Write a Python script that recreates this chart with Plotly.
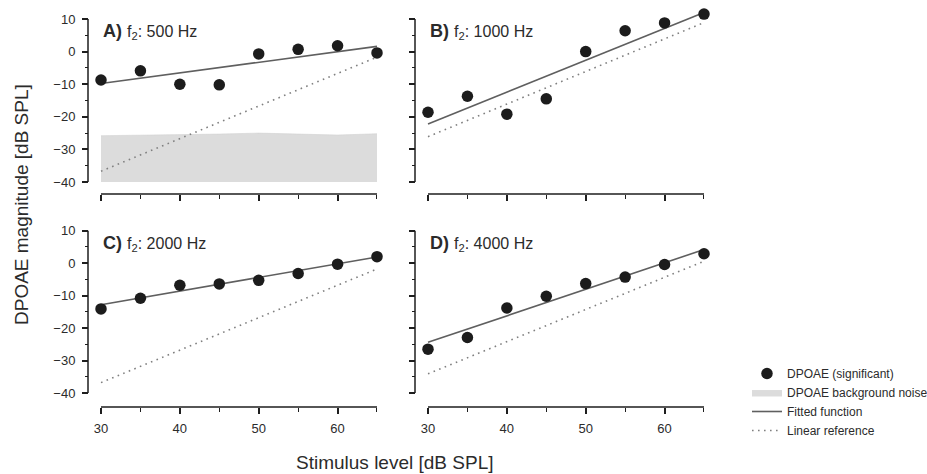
import plotly.graph_objects as go

# ---------------- data ----------------
levels = [30, 35, 40, 45, 50, 55, 60, 65]

dpoae_500 = [-8.7, -5.9, -10.0, -10.2, -0.7, 0.7, 1.8, -0.4]
dpoae_1000 = [-18.6, -13.7, -19.2, -14.5, 0.0, 6.4, 8.8, 11.5]
dpoae_2000 = [-14.1, -10.8, -6.8, -6.4, -5.3, -3.2, -0.3, 2.0]
dpoae_4000 = [-26.5, -22.9, -13.8, -10.2, -6.3, -4.3, -0.4, 2.9]

noise_500 = [-25.8, -25.7, -25.6, -25.3, -25.0, -25.2, -25.6, -25.2]
noise_floor = -40

fit_x = [30, 65]
fit_500 = [-9.8, 1.6]
fit_1000 = [-22.2, 12.0]
fit_2000 = [-12.8, 1.9]
fit_4000 = [-24.4, 4.2]

lin_500 = [-36.7, -1.7]
lin_1000 = [-26.1, 8.9]
lin_2000 = [-36.8, -1.8]
lin_4000 = [-34.1, 0.6]

panel_letters = ["A)", "B)", "C)", "D)"]
panel_freqs = ["500 Hz", "1000 Hz", "2000 Hz", "4000 Hz"]

y_ticks = [10, 0, -10, -20, -30, -40]
y_minor = [5, -5, -15, -25, -35]
x_ticks = [30, 40, 50, 60]
x_minor = [35, 45, 55, 65]
x_lim = [30, 65]
y_lim = [-40, 10]

# ---------------- styling ----------------
FONT = "Liberation Sans, Arial, Helvetica, sans-serif"
TXT = "#2b2b2b"
AX = "#1e1e1e"
DOT = "#1c1c1c"
FITC = "#5f5f5f"
LINC = "#808080"
NOISEC = "#dcdcdc"

W, H = 927, 474
ML, MR, MT, MB = 60, 200, 2, 60
PW, PH = W - ML - MR, H - MT - MB

def px_x(p):
    return (p - ML) / PW

def px_y(p):
    return (H - MB - p) / PH

# pixel geometry of the panels (where x=30/65 and y=10/-40 fall, axis line positions)
panels = [
    dict(x0=101, x1=377, yax=88, ytop=19, ybot=182, xax=194),
    dict(x0=428, x1=704, yax=415, ytop=19, ybot=182, xax=194),
    dict(x0=101, x1=377, yax=88, ytop=230.7, ybot=393, xax=407),
    dict(x0=428, x1=704, yax=415, ytop=230.7, ybot=393, xax=407),
]
XR = [28.0, 67.0]   # plotted range (wider than axis lines so no marker is hidden)
YR = [-45.0, 14.0]

dpoae = [dpoae_500, dpoae_1000, dpoae_2000, dpoae_4000]
fits = [fit_500, fit_1000, fit_2000, fit_4000]
lins = [lin_500, lin_1000, lin_2000, lin_4000]

fig = go.Figure()
shapes = []

for i in range(4):
    sx = "" if i == 0 else str(i + 1)
    xa, ya = "x" + sx, "y" + sx
    first = i == 0
    if first:
        fig.add_trace(go.Scatter(
            x=levels, y=[noise_floor] * len(levels), mode="lines",
            line=dict(width=0, color=NOISEC), showlegend=False,
            hoverinfo="skip", xaxis=xa, yaxis=ya))
        fig.add_trace(go.Scatter(
            x=levels, y=noise_500, mode="lines", fill="tonexty",
            fillcolor=NOISEC, line=dict(width=0.6, color="#d2d2d2"),
            name="DPOAE background noise", legendrank=2,
            showlegend=True, xaxis=xa, yaxis=ya))
    fig.add_trace(go.Scatter(
        x=fit_x, y=lins[i], mode="lines",
        line=dict(color=LINC, width=1.6, dash="1.6px,4.4px"),
        name="Linear reference", legendrank=4, showlegend=first,
        xaxis=xa, yaxis=ya))
    fig.add_trace(go.Scatter(
        x=fit_x, y=fits[i], mode="lines",
        line=dict(color=FITC, width=1.6),
        name="Fitted function", legendrank=3, showlegend=first,
        xaxis=xa, yaxis=ya))
    fig.add_trace(go.Scatter(
        x=levels, y=dpoae[i], mode="markers",
        marker=dict(color=DOT, size=11.5, line=dict(width=0)),
        name="DPOAE (significant)", legendrank=1, showlegend=first,
        xaxis=xa, yaxis=ya))

    p = panels[i]
    sxp = (p["x1"] - p["x0"]) / (x_lim[1] - x_lim[0])
    syp = (p["ybot"] - p["ytop"]) / (y_lim[1] - y_lim[0])
    dx0 = p["x0"] - (x_lim[0] - XR[0]) * sxp
    dx1 = p["x1"] + (XR[1] - x_lim[1]) * sxp
    dyt = p["ytop"] - (YR[1] - y_lim[1]) * syp
    dyb = p["ybot"] + (y_lim[0] - YR[0]) * syp

    show_xlab = i >= 2
    show_ylab = i % 2 == 0
    xaxis = dict(
        domain=[px_x(dx0), px_x(dx1)],
        range=XR, anchor="free", position=px_y(p["xax"]),
        tickvals=x_ticks, showticklabels=show_xlab,
        ticks="outside", ticklen=6, tickwidth=1.5, tickcolor=AX,
        minor=dict(tickvals=x_minor, ticks="outside", ticklen=3.5,
                   tickwidth=1.3, tickcolor=AX, showgrid=False),
        showline=False, showgrid=False, zeroline=False,
        tickfont=dict(family=FONT, size=13, color=TXT),
        ticklabelstandoff=3,
    )
    yaxis = dict(
        domain=[px_y(dyb), px_y(dyt)],
        range=YR, anchor="free", position=px_x(p["yax"]),
        tickvals=y_ticks, showticklabels=show_ylab,
        ticks="outside", ticklen=6, tickwidth=1.5, tickcolor=AX,
        minor=dict(tickvals=y_minor, ticks="outside", ticklen=3.5,
                   tickwidth=1.3, tickcolor=AX, showgrid=False),
        showline=False, showgrid=False, zeroline=False,
        tickfont=dict(family=FONT, size=13, color=TXT),
        ticklabelstandoff=4,
    )
    fig.update_layout(**{"xaxis" + sx: xaxis, "yaxis" + sx: yaxis})

    # detached axis lines spanning exactly the tick range
    shapes.append(dict(type="line", xref=xa, yref="paper",
                       x0=x_lim[0], x1=x_lim[1],
                       y0=px_y(p["xax"]), y1=px_y(p["xax"]),
                       line=dict(color=AX, width=1.5), layer="above"))
    shapes.append(dict(type="line", xref="paper", yref=ya,
                       x0=px_x(p["yax"]), x1=px_x(p["yax"]),
                       y0=y_lim[0], y1=y_lim[1],
                       line=dict(color=AX, width=1.5), layer="above"))

    fig.add_annotation(
        xref=xa, yref=ya, x=30, y=6.2, xanchor="left", yanchor="middle",
        text=f"<b>{panel_letters[i]}</b> <span style='font-size:16px'>f<sub>2</sub>: {panel_freqs[i]}</span>",
        showarrow=False, font=dict(family=FONT, size=18, color=TXT))

fig.add_annotation(
    xref="paper", yref="paper", x=px_x(21), y=px_y(205),
    text="DPOAE magnitude [dB SPL]", textangle=-90, showarrow=False,
    xanchor="center", yanchor="middle",
    font=dict(family=FONT, size=19, color=TXT))
fig.add_annotation(
    xref="paper", yref="paper", x=px_x(394), y=px_y(462),
    text="Stimulus level [dB SPL]", showarrow=False,
    xanchor="center", yanchor="middle",
    font=dict(family=FONT, size=19, color=TXT))

fig.update_layout(
    width=W, height=H,
    margin=dict(l=ML, r=MR, t=MT, b=MB, autoexpand=False),
    paper_bgcolor="white", plot_bgcolor="rgba(0,0,0,0)",
    font=dict(family=FONT, color=TXT),
    showlegend=True,
    shapes=shapes,
    legend=dict(
        x=px_x(747), y=px_y(359), xanchor="left", yanchor="top",
        font=dict(family=FONT, size=12, color=TXT),
        bgcolor="rgba(0,0,0,0)", borderwidth=0,
        itemwidth=30, tracegroupgap=0,
        traceorder="normal",
    ),
)

fig.write_html("out.html")
